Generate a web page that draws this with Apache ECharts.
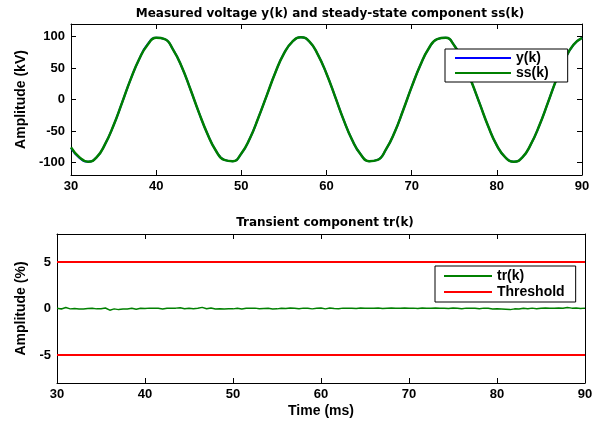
<!DOCTYPE html>
<html>
<head>
<meta charset="utf-8">
<script src="https://cdn.jsdelivr.net/npm/echarts@6/dist/echarts.min.js"></script>
<style>
  html, body { margin: 0; padding: 0; background: #fff; }
  #chart { width: 601px; height: 423px; }
</style>
</head>
<body>
<div id="chart"></div>
<script>
// Time axis (ms) for the voltage traces, 1 ms steps
const timeMs = [30,31,32,33,34,35,36,37,38,39,40,41,42,43,44,45,46,47,48,49,50,51,52,53,54,55,56,57,58,59,60,
  61,62,63,64,65,66,67,68,69,70,71,72,73,74,75,76,77,78,79,80,81,82,83,84,85,86,87,88,89,90];

// Measured voltage y(k), kV
const measured = [-77,-93,-99,-92,-71,-41,-5,32,64,88,98,96,79,52,17,-20,-54,-81,-96,-98,-86,-62,-29,7,43,73,92,99,
  92,71,41,5,-32,-64,-87,-98,-96,-79,-52,-17,20,54,81,96,98,86,62,29,-7,-43,-73,-92,-99,-92,-71,-41,-5,32,64,87,98];

// Steady-state component ss(k), kV
const steady = [-76,-92,-99,-92,-71,-41,-5,32,64,87,98,96,79,52,17,-20,-54,-81,-96,-98,-86,-62,-29,7,43,73,92,99,
  92,71,41,5,-32,-64,-87,-98,-96,-79,-52,-17,20,54,81,96,98,86,62,29,-7,-43,-73,-92,-99,-92,-71,-41,-5,32,64,87,98];

// Time axis (ms) for the transient trace, 0.5 ms steps
const timeTr = [30,30.5,31,31.5,32,32.5,33,33.5,34,34.5,35,35.5,36,36.5,37,37.5,38,38.5,39,39.5,40,40.5,41,41.5,42,42.5,
  43,43.5,44,44.5,45,45.5,46,46.5,47,47.5,48,48.5,49,49.5,50,50.5,51,51.5,52,52.5,53,53.5,54,54.5,55,55.5,56,56.5,57,57.5,
  58,58.5,59,59.5,60,60.5,61,61.5,62,62.5,63,63.5,64,64.5,65,65.5,66,66.5,67,67.5,68,68.5,69,69.5,70,70.5,71,71.5,72,72.5,
  73,73.5,74,74.5,75,75.5,76,76.5,77,77.5,78,78.5,79,79.5,80,80.5,81,81.5,82,82.5,83,83.5,84,84.5,85,85.5,86,86.5,87,87.5,
  88,88.5,89,89.5,90];

// Transient component tr(k), %
const transient = [0.02,-0.05,0.1,-0.04,0.0,-0.06,-0.05,0.0,0.03,-0.04,-0.02,0.05,-0.18,-0.04,-0.12,-0.06,-0.05,0.02,-0.08,
  0.02,0.0,0.04,0.03,0.02,-0.06,0.03,0.02,0.04,0.08,-0.02,0.03,-0.02,0.02,0.12,-0.03,0.06,-0.05,-0.04,-0.06,-0.03,-0.04,
  0.02,-0.06,0.03,0.02,0.04,-0.03,0.0,0.02,-0.05,-0.04,0.03,0.0,0.05,0.02,-0.03,0.04,0.02,-0.04,0.03,0.05,-0.04,0.06,0.0,
  -0.02,0.04,0.02,0.03,-0.01,0.06,0.03,0.04,0.02,0.05,0.0,0.03,0.05,0.02,0.04,0.06,0.02,0.04,0.0,0.06,0.04,0.02,0.05,0.02,
  0.03,0.0,0.05,0.02,-0.03,0.04,0.02,0.03,-0.02,0.04,0.02,-0.06,-0.04,-0.05,-0.08,-0.12,-0.04,-0.06,0.02,-0.03,0.04,-0.02,
  0.03,0.05,0.02,0.04,0.06,0.02,0.1,0.04,0.06,0.0,0.04];

// Detection threshold levels, %
const thresholds = [5, -5];
const xRange = [30, 90];

const FONT = 'Liberation Sans, Arial, sans-serif';
const TXT = { fontFamily: FONT, fontWeight: 'bold', fontSize: 13, color: '#000' };
const TITLE = { fontFamily: 'DejaVu Sans', fontWeight: 'bold', fontSize: 12, color: '#000' };
const NAME = Object.assign({}, TXT, { fontSize: 14 });

const zip = (xs, ys) => xs.map((x, i) => [x, ys[i]]);
const thresholdData = [];
thresholds.forEach((v, i) => {
  if (i > 0) thresholdData.push([null, null]);
  thresholdData.push([xRange[0], v], [xRange[1], v]);
});

function xAxes(gridIndex, name) {
  const base = {
    type: 'value', gridIndex, min: xRange[0], max: xRange[1], interval: 10,
    axisLine: { onZero: false, lineStyle: { color: '#000', width: 1 } },
    axisTick: { inside: true, length: 5, lineStyle: { color: '#000' } },
    splitLine: { show: false }
  };
  return [
    Object.assign({}, base, {
      position: 'bottom',
      axisLabel: Object.assign({ margin: 5 }, TXT),
      name: name || '', nameLocation: 'middle', nameGap: 21,
      nameTextStyle: Object.assign({}, NAME)
    }),
    Object.assign({}, base, { position: 'top', axisLabel: { show: false } })
  ];
}

function yAxes(gridIndex, min, max, ticks, name, gap) {
  const base = {
    type: 'value', gridIndex, min, max,
    axisLine: { show: true, onZero: false, lineStyle: { color: '#000', width: 1 } },
    axisTick: { show: true, inside: true, length: 5, customValues: ticks, lineStyle: { color: '#000' } },
    splitLine: { show: false }
  };
  return [
    Object.assign({}, base, {
      position: 'left',
      axisLabel: Object.assign({ margin: 6, customValues: ticks }, TXT),
      name, nameLocation: 'middle', nameGap: gap,
      nameTextStyle: Object.assign({}, NAME)
    }),
    Object.assign({}, base, { position: 'right', axisLabel: { show: false } })
  ];
}

const chart = echarts.init(document.getElementById('chart'), null, { renderer: 'canvas' });
chart.setOption({
  backgroundColor: '#fff',
  animation: false,
  title: [
    { text: 'Measured voltage y(k) and steady-state component ss(k)', left: 325, top: 3, textAlign: 'center',
      textStyle: TITLE },
    { text: 'Transient component tr(k)', left: 320, top: 212, textAlign: 'center',
      textStyle: TITLE }
  ],
  grid: [
    { left: 71, top: 24, width: 511, height: 151 },
    { left: 57, top: 234, width: 528, height: 149 }
  ],
  xAxis: [...xAxes(0), ...xAxes(1, 'Time (ms)')],
  yAxis: [
    ...yAxes(0, -120, 120, [-100, -50, 0, 50, 100], 'Amplitude (kV)', 43),
    ...yAxes(1, -8, 8, [-5, 0, 5], 'Amplitude (%)', 28)
  ],
  legend: [
    { data: ['y(k)', 'ss(k)'], orient: 'vertical', left: 445, top: 49,
      icon: 'rect', itemWidth: 56, itemHeight: 2, itemGap: 1,
      padding: [2, 19, 2, 10], borderColor: '#000', borderWidth: 1, backgroundColor: '#fff',
      textStyle: Object.assign({}, NAME) },
    { data: ['tr(k)', 'Threshold'], orient: 'vertical', left: 435, top: 266,
      icon: 'rect', itemWidth: 48, itemHeight: 2, itemGap: 2,
      padding: [3, 11, 3, 9], borderColor: '#000', borderWidth: 1, backgroundColor: '#fff',
      textStyle: Object.assign({}, NAME) }
  ],
  series: [
    { name: 'y(k)', type: 'line', xAxisIndex: 0, yAxisIndex: 0, data: zip(timeMs, measured),
      smooth: true, symbol: 'none', lineStyle: { color: '#0000ff', width: 2 }, itemStyle: { color: '#0000ff' } },
    { name: 'ss(k)', type: 'line', xAxisIndex: 0, yAxisIndex: 0, data: zip(timeMs, steady),
      smooth: true, symbol: 'none', lineStyle: { color: '#008000', width: 2.5 }, itemStyle: { color: '#008000' } },
    { name: 'tr(k)', type: 'line', xAxisIndex: 2, yAxisIndex: 2, data: zip(timeTr, transient),
      symbol: 'none', lineStyle: { color: '#008000', width: 1.5 }, itemStyle: { color: '#008000' } },
    { name: 'Threshold', type: 'line', xAxisIndex: 2, yAxisIndex: 2, data: thresholdData,
      connectNulls: false, symbol: 'none', lineStyle: { color: '#ff0000', width: 2 }, itemStyle: { color: '#ff0000' } }
  ]
});
</script>
</body>
</html>
